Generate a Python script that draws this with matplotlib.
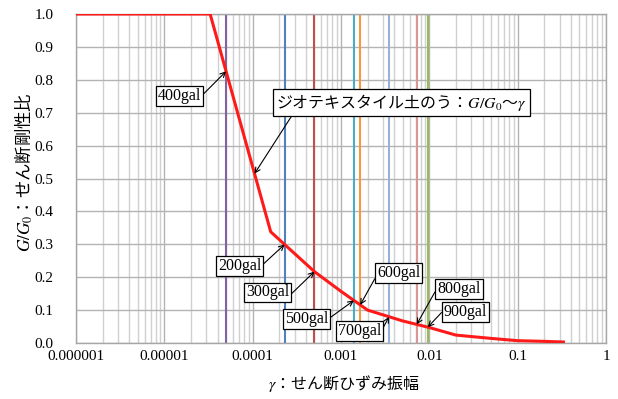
import numpy as np
import matplotlib
matplotlib.use('Agg')
import matplotlib.pyplot as plt
from matplotlib.ticker import FixedLocator, NullFormatter

plt.rcParams['font.family'] = ['Liberation Serif', 'DejaVu Serif', 'Noto Sans CJK JP']
plt.rcParams['mathtext.fontset'] = 'stix'
JP = ['Noto Sans CJK JP']

# ---- data ----
gamma = [1e-6, 3.3e-5, 1.6e-4, 5e-4, 1e-3, 2e-3, 5e-3, 1e-2, 2e-2, 5e-2, 1e-1, 2e-1, 3.3e-1]
ratio = [1.0, 1.0, 0.338, 0.217, 0.157, 0.100, 0.067, 0.047, 0.024, 0.014, 0.007, 0.005, 0.003]

gal_labels = ['400gal', '200gal', '300gal', '500gal', '600gal', '700gal', '800gal', '900gal']
gal_gamma = [5.0e-5, 2.3e-4, 5.0e-4, 1.4e-3, 1.65e-3, 3.5e-3, 7.2e-3, 9.6e-3]
gal_colors = ['#8064A2', '#4F81BD', '#C0504D', '#4BACC6', '#F79646', '#95B3D7', '#D99694', '#9BBB59']

curve_label = r'ジオテキスタイル土のう：$G/G_0$～$\gamma$'
curve_label_gamma = 1.05e-4

xticks = [1e-6, 1e-5, 1e-4, 1e-3, 1e-2, 1e-1, 1]
xtick_labels = ['0.000001', '0.00001', '0.0001', '0.001', '0.01', '0.1', '1']
yticks = [0.0, 0.1, 0.2, 0.3, 0.4, 0.5, 0.6, 0.7, 0.8, 0.9, 1.0]
ytick_labels = ['%.1f' % v for v in yticks]

x_title = r'$\gamma$：せん断ひずみ振幅'
y_title = r'$G/G_0$：せん断剛性比'

# ---- figure ----
fig = plt.figure(figsize=(6.18, 3.99), dpi=100)
ax = fig.add_axes([76/618, 1-343/399, 530/618, 329/399])
ax.set_xscale('log')
ax.set_xlim(1e-6, 1)
ax.set_ylim(0, 1.0)

ax.xaxis.set_major_locator(FixedLocator(xticks))
ax.set_xticklabels(xtick_labels)
minors = [m * 10.0**e for e in range(-6, 0) for m in range(2, 10)]
ax.xaxis.set_minor_locator(FixedLocator(minors))
ax.xaxis.set_minor_formatter(NullFormatter())
ax.set_yticks(yticks)
ax.set_yticklabels(ytick_labels)
ax.tick_params(axis='both', which='both', length=0, labelsize=11)
ax.tick_params(axis='x', pad=5)
ax.tick_params(axis='y', pad=16)

ax.grid(True, which='major', color='#B3B3B3', lw=1.0)
ax.grid(True, which='minor', axis='x', color='#D0D0D0', lw=1.0)
ax.set_axisbelow(True)
for s in ax.spines.values():
    s.set_color('#A6A6A6')
    s.set_linewidth(1.0)

for g, c in zip(gal_gamma, gal_colors):
    ax.axvline(g, color=c, lw=1.5, zorder=2)

ax.plot(gamma, ratio, color='#FF1A1A', lw=2.2, zorder=3)

lg = np.log10(gamma)
def curve_at(g):
    return float(np.interp(np.log10(g), lg, ratio))

# (text centre in axes fraction, arrow start relative to box)
text_pos = {
    '400gal': ((0.196, 0.751), (1.0, 0.5)),
    '200gal': ((0.3085, 0.234), (1.0, 0.5)),
    '300gal': ((0.362, 0.1535), (1.0, 0.3)),
    '500gal': ((0.435, 0.073), (1.0, 0.5)),
    '600gal': ((0.609, 0.213), (0.0, 0.4)),
    '700gal': ((0.535, 0.0356), (1.0, 0.5)),
    '800gal': ((0.7226, 0.164), (0.0, 0.58)),
    '900gal': ((0.735, 0.0933), (0.0, 0.64)),
}
box = dict(boxstyle='square,pad=0.12', fc='white', ec='black', lw=0.9)
for lab, g in zip(gal_labels, gal_gamma):
    pos, rel = text_pos[lab]
    arrow = dict(arrowstyle='->', color='black', lw=0.8, shrinkA=0, shrinkB=0,
                 mutation_scale=9, relpos=rel)
    ax.annotate(lab, xy=(g, curve_at(g)), xycoords='data',
                xytext=pos, textcoords='axes fraction',
                ha='center', va='center', fontsize=11.5, bbox=box,
                arrowprops=arrow, zorder=5)

ax.annotate(curve_label, xy=(curve_label_gamma, curve_at(curve_label_gamma)),
            xycoords='data', xytext=(0.614, 0.7316), textcoords='axes fraction',
            ha='center', va='center', fontsize=11.5, family=JP,
            bbox=dict(boxstyle='square,pad=0.2', fc='white', ec='black', lw=0.9),
            arrowprops=dict(arrowstyle='->', color='black', lw=0.8, shrinkA=0,
                            shrinkB=0, mutation_scale=9, relpos=(0.07, 0.0)),
            zorder=5)

# axis titles
fig.text(24/618, 1-172.5/399, y_title, rotation=90, ha='center', va='center',
         fontsize=12.5, family=JP)
fig.text(344/618, 1-384/399, x_title, ha='center', va='center',
         fontsize=11.5, family=JP)

fig.savefig('out.png', dpi=100)
